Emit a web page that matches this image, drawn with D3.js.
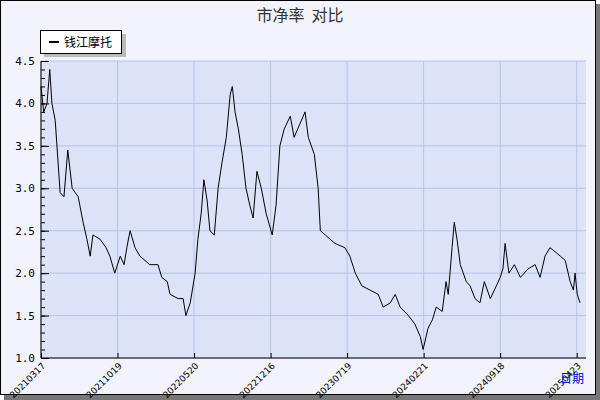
<!DOCTYPE html>
<html><head><meta charset="utf-8">
<script src="https://cdn.jsdelivr.net/npm/d3@7"></script>
<style>body{margin:0;background:#fff}</style></head>
<body><script>
// trading-day index and P/B value
const days = [0,5,11,16,20,26,35,42,49,57,68,77,84,90,95,108,119,126,135,145,152,157,163,172,181,199,214,221,231,236,251,260,265,273,282,287,293,298,304,309,317,324,331,339,346,350,355,361,368,375,382,388,395,403,412,423,430,437,445,456,463,483,489,500,507,511,520,538,556,565,575,587,602,617,626,639,648,657,672,684,694,699,708,716,723,734,741,745,752,756,761,767,778,785,794,803,811,822,833,840,845,849,856,866,877,891,904,913,922,931,941,950,959,968,974,977,981,986];
const pb = [4.2,3.9,4.0,4.4,4.0,3.8,2.95,2.9,3.45,3.0,2.9,2.6,2.4,2.2,2.45,2.4,2.3,2.2,2.0,2.2,2.1,2.3,2.5,2.3,2.2,2.1,2.1,1.95,1.9,1.75,1.7,1.7,1.5,1.65,2.0,2.4,2.7,3.1,2.85,2.5,2.45,3.0,3.3,3.6,4.1,4.2,3.9,3.7,3.4,3.0,2.8,2.65,3.2,3.0,2.7,2.45,2.8,3.5,3.7,3.85,3.6,3.9,3.6,3.4,3.0,2.5,2.45,2.35,2.3,2.2,2.0,1.85,1.8,1.75,1.6,1.65,1.75,1.6,1.5,1.4,1.25,1.1,1.35,1.45,1.6,1.55,1.9,1.75,2.3,2.6,2.4,2.1,1.9,1.85,1.7,1.65,1.9,1.7,1.85,1.95,2.05,2.35,2.0,2.1,1.95,2.05,2.1,1.95,2.2,2.3,2.25,2.2,2.15,1.9,1.8,2.0,1.75,1.65];
const tickDays = [0,140,280,420,560,700,840,980];
const tickLabels = ["20210317","20211019","20220520","20221216","20230719","20240221","20240918","20250423"];
const yTicks = [1.0,1.5,2.0,2.5,3.0,3.5,4.0,4.5];

const svg = d3.select("body").append("svg").attr("width",600).attr("height",400);
svg.append("rect").attr("x",4).attr("y",4).attr("width",596).attr("height",396).attr("fill","#777");
svg.append("rect").attr("x",0.5).attr("y",0.5).attr("width",595).attr("height",394).attr("fill","#f2f3fc").attr("stroke","#000");

const L=41,R=586,T=61,B=358;
const x = d3.scaleLinear().domain([0,997]).range([L,R]);
const y = d3.scaleLinear().domain([1,4.5]).range([B,T]);

svg.append("rect").attr("x",L).attr("y",T).attr("width",R-L).attr("height",B-T).attr("fill","#dce2f7");
svg.selectAll(".gx").data(tickDays).enter().append("line")
  .attr("x1",d=>x(d)).attr("x2",d=>x(d)).attr("y1",T).attr("y2",B).attr("stroke","#b6c3e8");
svg.selectAll(".gy").data(yTicks).enter().append("line")
  .attr("x1",L).attr("x2",R).attr("y1",d=>y(d)).attr("y2",d=>y(d)).attr("stroke","#b6c3e8");

const yAxis = svg.append("g").attr("transform",`translate(${L},0)`)
  .call(d3.axisLeft(y).tickValues(d3.range(1,4.51,0.1)).tickSize(-4).tickFormat(""));
yAxis.select(".domain").remove();
svg.append("g").attr("transform",`translate(${L},0)`)
  .call(d3.axisLeft(y).tickValues(yTicks).tickSize(-8).tickFormat(d3.format(".1f")))
  .call(g=>g.select(".domain").remove())
  .call(g=>g.selectAll("text").attr("x",-6).attr("font-family","DejaVu Sans Mono").attr("font-size",11).attr("fill","#000"));
svg.append("line").attr("x1",L).attr("x2",L).attr("y1",T).attr("y2",B).attr("stroke","#000");

const xAxis = svg.append("g").attr("transform",`translate(0,${B})`)
  .call(d3.axisBottom(x).tickValues(tickDays).tickSize(-5).tickFormat((d,i)=>tickLabels[i]));
xAxis.select(".domain").remove();
xAxis.selectAll("text").attr("transform","translate(0,4) rotate(-45)").attr("text-anchor","end")
  .attr("x",0).attr("y",0).attr("dy","0.7em").attr("font-family","DejaVu Sans").attr("font-size",9).attr("fill","#000");
svg.append("line").attr("x1",L).attr("x2",R).attr("y1",B).attr("y2",B).attr("stroke","#000");

svg.append("path").datum(days.map((d,i)=>[d,pb[i]]))
  .attr("d",d3.line().x(d=>x(d[0])).y(d=>y(d[1])))
  .attr("fill","none").attr("stroke","#000").attr("stroke-width",1);

svg.append("text").attr("x",300).attr("y",21).attr("text-anchor","middle")
  .attr("font-family","Noto Sans CJK SC").attr("font-size",16).attr("fill","#333").text("市净率\u00a0\u00a0对比");

svg.append("rect").attr("x",44).attr("y",34).attr("width",82).attr("height",23).attr("fill","#bbb");
svg.append("rect").attr("x",40.5).attr("y",30.5).attr("width",81).attr("height",23).attr("fill","#fff").attr("stroke","#000");
svg.append("line").attr("x1",49).attr("x2",59).attr("y1",42).attr("y2",42).attr("stroke","#000").attr("stroke-width",2);
svg.append("text").attr("x",64).attr("y",47).attr("font-family","Noto Sans CJK SC").attr("font-size",12).text("钱江摩托");

svg.append("text").attr("x",572).attr("y",383).attr("text-anchor","middle")
  .attr("font-family","Noto Sans CJK SC").attr("font-size",12).attr("fill","#0000dd").text("日期");
</script></body></html>
